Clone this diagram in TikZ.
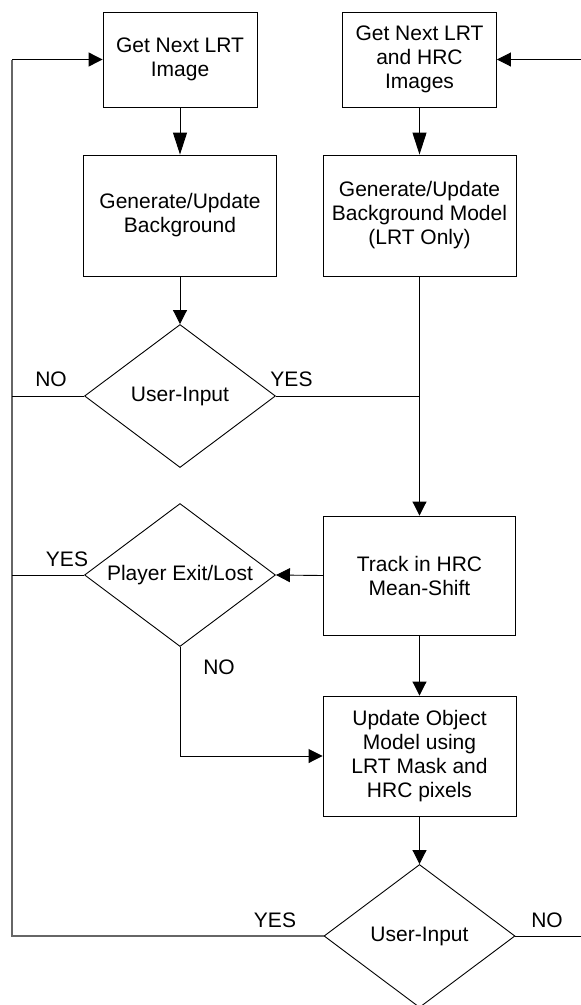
\documentclass[tikz,border=0pt]{standalone}
\usepackage{fontspec}
\setmainfont{Liberation Sans}
\usetikzlibrary{shapes.geometric,arrows.meta}
\begin{document}
\begin{tikzpicture}[x=1pt,y=-1pt,
  font=\fontsize{21}{24}\selectfont,
  box/.style={draw=black,line width=0.9pt,rectangle,inner sep=0pt,align=center,fill=white},
  dec/.style={draw=black,line width=0.9pt,diamond,aspect=1.336,inner sep=0pt,
              minimum width=191pt,minimum height=143pt,align=center},
  conn/.style={draw=black,line width=0.9pt},
  arr/.style={conn,-{Triangle[length=14pt,width=14pt]}},
  longarr/.style={conn,-{Triangle[length=22pt,width=14pt]}},
  loop/.style={draw=black!60,line width=1.6pt},
  lbl/.style={inner sep=0pt}]
\useasboundingbox (0,0) rectangle (581,1005);

% process boxes
\node[box,minimum width=154pt,minimum height=95pt] (b1) at (180,59.5)
  {Get Next LRT\\Image};
\node[box,minimum width=154pt,minimum height=95pt] (b2) at (419.5,59.5)
  {Get Next LRT\\and HRC\\Images};
\node[box,minimum width=193pt,minimum height=121pt] (b3) at (180,215.5)
  {Generate/Update\\Background};
\node[box,minimum width=193pt,minimum height=121pt] (b4) at (419.5,215.5)
  {Generate/Update\\Background Model\\(LRT Only)};
\node[box,minimum width=192pt,minimum height=119pt] (track) at (419.5,575.5)
  {Track in HRC\\Mean-Shift};
\node[box,minimum width=193pt,minimum height=120pt] (upd) at (419.5,756)
  {Update Object\\Model using\\LRT Mask and\\HRC pixels};

% decisions
\node[dec] (d1) at (180,396) {User-Input};
\node[dec] (d2) at (180,575) {Player Exit/Lost};
\node[dec] (d3) at (419.5,936) {User-Input};

% outer edges of the loop lines
\coordinate (lx) at (12,0);
\coordinate (rx) at (581,0);

% main flow
\draw[longarr] (b1.south) -- (b3.north);
\draw[longarr] (b2.south) -- (b4.north);
\draw[arr] (b3.south) -- (d1.north);
\draw[arr] (b4.south) -- (track.north);
\draw[conn] (d1.east) -- (d1.east -| b4.south);
\draw[arr] (track.west) -- (d2.east);
\draw[arr] (d2.south) -- (d2.south |- upd.west) -- (upd.west);
\draw[arr] (track.south) -- (upd.north);
\draw[arr] (upd.south) -- (d3.north);

% return loops
\draw[loop] (d3.west) -- (d3.west -| lx) -- (b1.west -| lx);
\draw[arr,line width=1.2pt] (b1.west -| lx) -- (b1.west);
\draw[conn] (d1.west) -- (d1.west -| lx);
\draw[conn] (d2.west) -- (d2.west -| lx);
\draw[conn] (d3.east) -- (d3.east -| rx);
\draw[arr] (b2.east -| rx) -- (b2.east);

% branch labels
\node[lbl] (n1) at (51,379) {NO};
\node[lbl] (y1) at (291.5,379) {YES};
\node[lbl] (y2) at (67,559) {YES};
\node[lbl] (n2) at (219,667) {NO};
\node[lbl] (y3) at (275,920) {YES};
\node[lbl] (n3) at (547,920) {NO};
\end{tikzpicture}
\end{document}
